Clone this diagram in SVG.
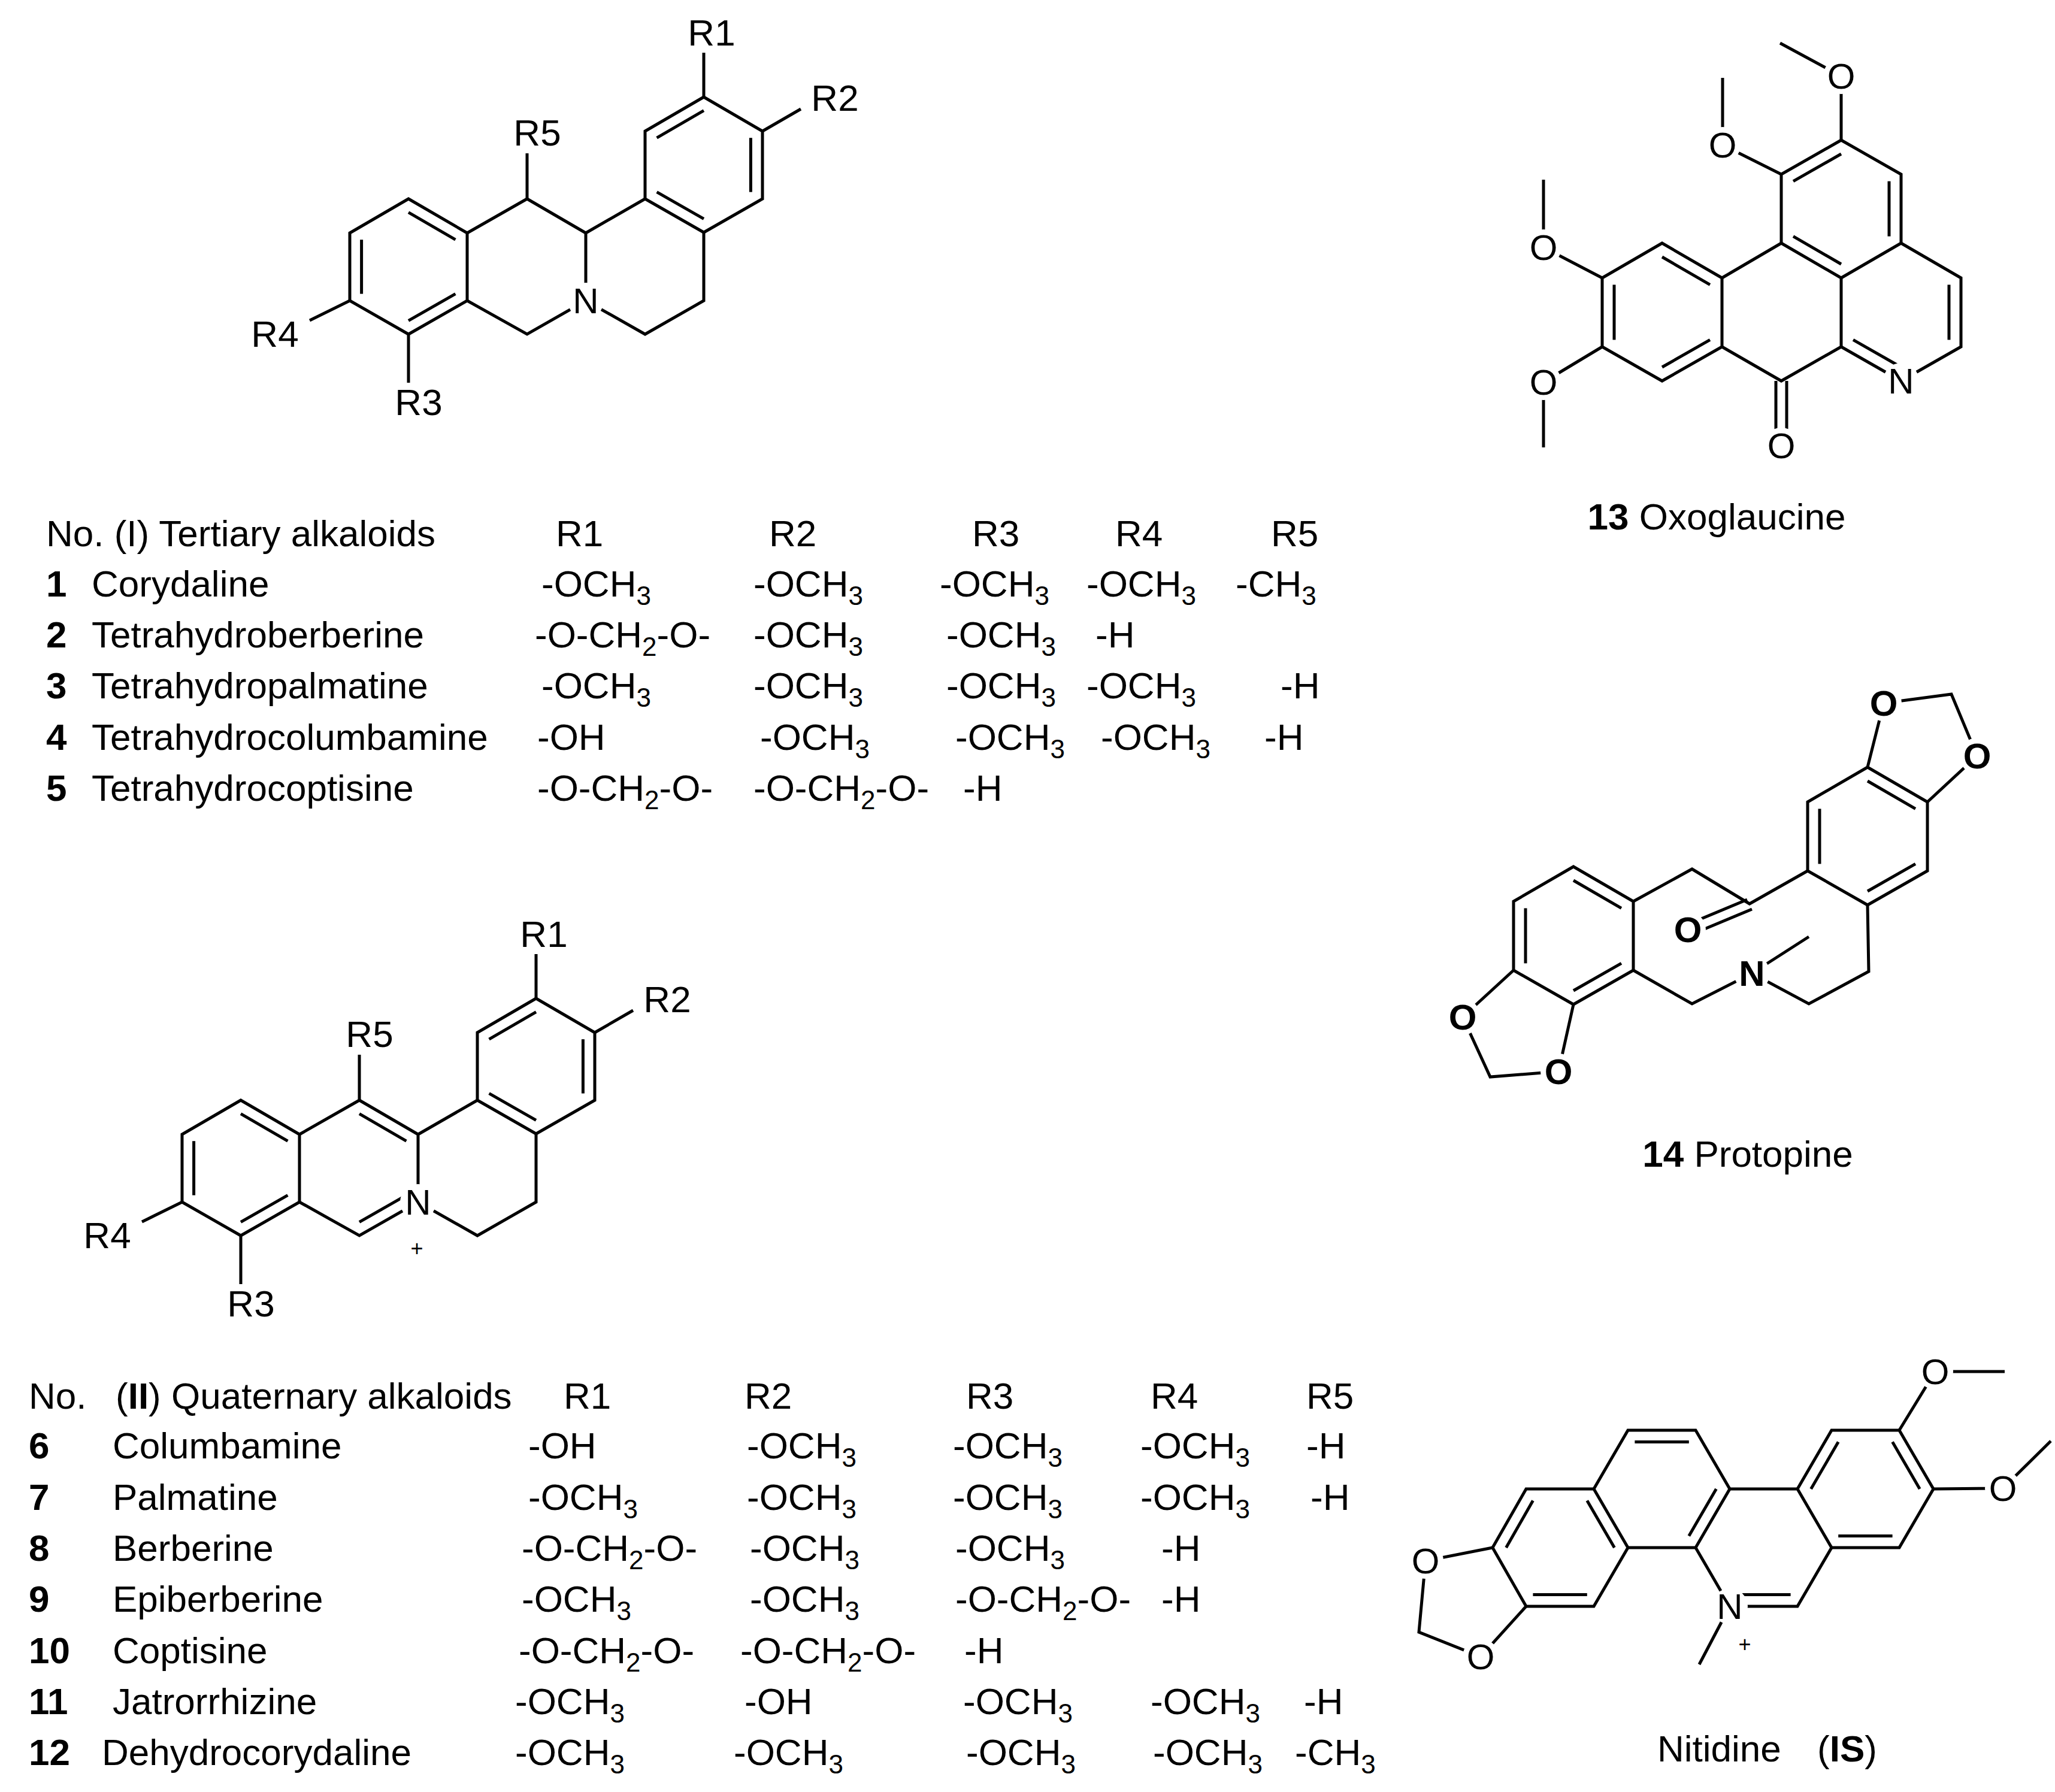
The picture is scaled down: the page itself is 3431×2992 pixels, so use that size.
<svg xmlns="http://www.w3.org/2000/svg" width="3431" height="2992" viewBox="0 0 3431 2992">
<style>
.b line,.b path{stroke:#000;stroke-width:5;fill:none}
.d line{vector-effect:non-scaling-stroke}
text{font-family:"Liberation Sans",Arial,sans-serif;fill:#000}
.t{font-size:62px}
.n{font-weight:bold}
.s{font-size:44px}
.a{font-size:60px;text-anchor:middle}
.ab{font-weight:bold}
.r{font-size:62px;text-anchor:middle}
.bg{fill:#fff}
</style>
<rect width="3431" height="2992" fill="#fff"/>
<defs>
<circle id="bg" class="bg" r="30"/>
<g id="core" class="b">
<path d="M1175,162 L1273,219 L1273,332 L1175,388 L1077,332 L1077,219 Z"/>
<path d="M682,332 L780,389 L780,502 L682,558 L584,502 L584,389 Z"/>
<path d="M780,389 L880,332 L978,389 L1077,332 M978,389 L978,502 L880,558 L780,502 M978,502 L1077,558 L1175,502 L1175,388"/>
<path d="M1175,162 L1175,88 M1273,219 L1337,182 M880,332 L880,256 M584,502 L517,535 M682,558 L682,639"/>
<g class="d" transform="matrix(0.8 0 0 0.8 235 55)"><line x1="1077" y1="219" x2="1175" y2="162"/><line x1="1273" y1="219" x2="1273" y2="332"/><line x1="1077" y1="332" x2="1175" y2="388"/></g>
<g class="d" transform="matrix(0.8 0 0 0.8 136.4 89)"><line x1="682" y1="332" x2="780" y2="389"/><line x1="584" y1="389" x2="584" y2="502"/><line x1="780" y1="502" x2="682" y2="558"/></g>
</g>
<g id="rlab">
<text class="r" x="1188" y="76">R1</text>
<text class="r" x="1394" y="185">R2</text>
<text class="r" x="897" y="243">R5</text>
<text class="r" x="459" y="579">R4</text>
<text class="r" x="699" y="693">R3</text>
<use href="#bg" x="978" y="502"/>
<text class="a" x="978" y="523">N</text>
</g>
</defs>

<g id="structure-I">
<use href="#core"/><use href="#rlab"/>
</g>

<g id="structure-II" transform="translate(-280,1505)">
<use href="#core"/>
<g class="b"><g class="d" transform="matrix(0.8 0 0 0.8 176 89)"><line x1="880" y1="332" x2="978" y2="389"/><line x1="978" y1="502" x2="880" y2="558"/></g></g>
<use href="#rlab"/>
<text x="976" y="592" style="font-size:36px;text-anchor:middle">+</text>
</g>

<g id="table-I">
<text class="t" x="77" y="912">No. (I) Tertiary alkaloids</text>
<text class="t" x="928" y="912">R1</text><text class="t" x="1284" y="912">R2</text><text class="t" x="1623" y="912">R3</text><text class="t" x="1862" y="912">R4</text><text class="t" x="2122" y="912">R5</text>
<text class="t n" x="77" y="996">1</text><text class="t" x="153" y="996">Corydaline</text>
<text class="t" x="904" y="996">-OCH<tspan class="s" dy="14">3</tspan></text><text class="t" x="1258" y="996">-OCH<tspan class="s" dy="14">3</tspan></text><text class="t" x="1569" y="996">-OCH<tspan class="s" dy="14">3</tspan></text><text class="t" x="1814" y="996">-OCH<tspan class="s" dy="14">3</tspan></text><text class="t" x="2063" y="996">-CH<tspan class="s" dy="14">3</tspan></text>
<text class="t n" x="77" y="1081">2</text><text class="t" x="153" y="1081">Tetrahydroberberine</text>
<text class="t" x="893" y="1081">-O-CH<tspan class="s" dy="14">2</tspan><tspan dy="-14">-O-</tspan></text><text class="t" x="1258" y="1081">-OCH<tspan class="s" dy="14">3</tspan></text><text class="t" x="1580" y="1081">-OCH<tspan class="s" dy="14">3</tspan></text><text class="t" x="1829" y="1081">-H</text>
<text class="t n" x="77" y="1166">3</text><text class="t" x="153" y="1166">Tetrahydropalmatine</text>
<text class="t" x="904" y="1166">-OCH<tspan class="s" dy="14">3</tspan></text><text class="t" x="1258" y="1166">-OCH<tspan class="s" dy="14">3</tspan></text><text class="t" x="1580" y="1166">-OCH<tspan class="s" dy="14">3</tspan></text><text class="t" x="1814" y="1166">-OCH<tspan class="s" dy="14">3</tspan></text><text class="t" x="2138" y="1166">-H</text>
<text class="t n" x="77" y="1252">4</text><text class="t" x="153" y="1252">Tetrahydrocolumbamine</text>
<text class="t" x="897" y="1252">-OH</text><text class="t" x="1269" y="1252">-OCH<tspan class="s" dy="14">3</tspan></text><text class="t" x="1595" y="1252">-OCH<tspan class="s" dy="14">3</tspan></text><text class="t" x="1838" y="1252">-OCH<tspan class="s" dy="14">3</tspan></text><text class="t" x="2111" y="1252">-H</text>
<text class="t n" x="77" y="1337">5</text><text class="t" x="153" y="1337">Tetrahydrocoptisine</text>
<text class="t" x="897" y="1337">-O-CH<tspan class="s" dy="14">2</tspan><tspan dy="-14">-O-</tspan></text><text class="t" x="1258" y="1337">-O-CH<tspan class="s" dy="14">2</tspan><tspan dy="-14">-O-</tspan></text><text class="t" x="1608" y="1337">-H</text>
</g>

<g id="table-II">
<text class="t" x="48" y="2352">No.</text><text class="t" x="193" y="2352">(<tspan class="n">II</tspan>) Quaternary alkaloids</text>
<text class="t" x="941" y="2352">R1</text><text class="t" x="1243" y="2352">R2</text><text class="t" x="1613" y="2352">R3</text><text class="t" x="1921" y="2352">R4</text><text class="t" x="2181" y="2352">R5</text>
<text class="t n" x="48" y="2435">6</text><text class="t" x="188" y="2435">Columbamine</text>
<text class="t" x="882" y="2435">-OH</text><text class="t" x="1247" y="2435">-OCH<tspan class="s" dy="14">3</tspan></text><text class="t" x="1591" y="2435">-OCH<tspan class="s" dy="14">3</tspan></text><text class="t" x="1904" y="2435">-OCH<tspan class="s" dy="14">3</tspan></text><text class="t" x="2181" y="2435">-H</text>
<text class="t n" x="48" y="2521">7</text><text class="t" x="188" y="2521">Palmatine</text>
<text class="t" x="882" y="2521">-OCH<tspan class="s" dy="14">3</tspan></text><text class="t" x="1247" y="2521">-OCH<tspan class="s" dy="14">3</tspan></text><text class="t" x="1591" y="2521">-OCH<tspan class="s" dy="14">3</tspan></text><text class="t" x="1904" y="2521">-OCH<tspan class="s" dy="14">3</tspan></text><text class="t" x="2188" y="2521">-H</text>
<text class="t n" x="48" y="2606">8</text><text class="t" x="188" y="2606">Berberine</text>
<text class="t" x="871" y="2606">-O-CH<tspan class="s" dy="14">2</tspan><tspan dy="-14">-O-</tspan></text><text class="t" x="1252" y="2606">-OCH<tspan class="s" dy="14">3</tspan></text><text class="t" x="1595" y="2606">-OCH<tspan class="s" dy="14">3</tspan></text><text class="t" x="1939" y="2606">-H</text>
<text class="t n" x="48" y="2691">9</text><text class="t" x="188" y="2691">Epiberberine</text>
<text class="t" x="871" y="2691">-OCH<tspan class="s" dy="14">3</tspan></text><text class="t" x="1252" y="2691">-OCH<tspan class="s" dy="14">3</tspan></text><text class="t" x="1595" y="2691">-O-CH<tspan class="s" dy="14">2</tspan><tspan dy="-14">-O-</tspan></text><text class="t" x="1939" y="2691">-H</text>
<text class="t n" x="48" y="2777">10</text><text class="t" x="188" y="2777">Coptisine</text>
<text class="t" x="866" y="2777">-O-CH<tspan class="s" dy="14">2</tspan><tspan dy="-14">-O-</tspan></text><text class="t" x="1236" y="2777">-O-CH<tspan class="s" dy="14">2</tspan><tspan dy="-14">-O-</tspan></text><text class="t" x="1610" y="2777">-H</text>
<text class="t n" x="48" y="2862">11</text><text class="t" x="188" y="2862">Jatrorrhizine</text>
<text class="t" x="860" y="2862">-OCH<tspan class="s" dy="14">3</tspan></text><text class="t" x="1243" y="2862">-OH</text><text class="t" x="1608" y="2862">-OCH<tspan class="s" dy="14">3</tspan></text><text class="t" x="1921" y="2862">-OCH<tspan class="s" dy="14">3</tspan></text><text class="t" x="2177" y="2862">-H</text>
<text class="t n" x="48" y="2947">12</text><text class="t" x="170" y="2947">Dehydrocorydaline</text>
<text class="t" x="860" y="2947">-OCH<tspan class="s" dy="14">3</tspan></text><text class="t" x="1225" y="2947">-OCH<tspan class="s" dy="14">3</tspan></text><text class="t" x="1613" y="2947">-OCH<tspan class="s" dy="14">3</tspan></text><text class="t" x="1925" y="2947">-OCH<tspan class="s" dy="14">3</tspan></text><text class="t" x="2162" y="2947">-CH<tspan class="s" dy="14">3</tspan></text>
</g>

<g id="oxoglaucine">
<g class="b">
<path d="M2775,406 L2875,464 L2875,579 L2775,636 L2675,579 L2675,464 Z"/>
<path d="M2875,464 L2974,406 L3074,464 L3074,579 L2974,636 L2875,579"/>
<path d="M2974,406 L2974,291 L3074,234 L3174,291 L3174,406 L3074,464"/>
<path d="M3174,406 L3274,464 L3274,579 L3174,636 L3074,579"/>
<path d="M2965,636 L2965,724 M2983,636 L2983,724"/>
<path d="M2675,464 L2577,413 L2577,300 M2675,579 L2577,638 L2577,747 M2974,291 L2876,242 L2876,130 M3074,234 L3074,127 L2972,72"/>
<g class="d" transform="matrix(0.8 0 0 0.8 555 104.2)"><line x1="2775" y1="406" x2="2875" y2="464"/><line x1="2675" y1="464" x2="2675" y2="579"/><line x1="2775" y1="636" x2="2875" y2="579"/></g>
<g class="d" transform="matrix(0.8 0 0 0.8 614.8 69.8)"><line x1="2974" y1="291" x2="3074" y2="234"/><line x1="3174" y1="291" x2="3174" y2="406"/><line x1="2974" y1="406" x2="3074" y2="464"/></g>
<g class="d" transform="matrix(0.8 0 0 0.8 634.8 104.2)"><line x1="3274" y1="464" x2="3274" y2="579"/><line x1="3074" y1="579" x2="3174" y2="636"/></g>
</g>
<use href="#bg" x="2577" y="413"/><use href="#bg" x="2577" y="638"/><use href="#bg" x="2876" y="242"/><use href="#bg" x="3074" y="127"/><use href="#bg" x="3174" y="636"/><use href="#bg" x="2974" y="744"/>
<text class="a" x="2577" y="434">O</text><text class="a" x="2577" y="659">O</text><text class="a" x="2876" y="263">O</text><text class="a" x="3074" y="148">O</text>
<text class="a" x="3174" y="657">N</text><text class="a" x="2974" y="765">O</text>
<text class="t" x="2866" y="884" text-anchor="middle"><tspan class="n">13</tspan> Oxoglaucine</text>
</g>

<g id="protopine">
<g class="b">
<path d="M2627,1447 L2727,1505 L2727,1620 L2627,1677 L2527,1620 L2527,1505 Z"/>
<path d="M3118,1281 L3218,1339 L3218,1454 L3118,1511 L3018,1454 L3018,1339 Z"/>
<path d="M2727,1505 L2825,1451 L2921,1509 L3018,1454 M2727,1620 L2825,1676 L2925,1625 L3020,1676 L3120,1622 L3118,1511 M2925,1625 L3020,1564"/>
<path d="M2917,1502 L2838,1535 M2925,1518 L2846,1551"/>
<path d="M2527,1620 L2442,1698 L2488,1798 L2602,1789 L2627,1677 M3118,1281 L3145,1174 L3258,1159 L3301,1262 L3218,1339"/>
<g class="d" transform="matrix(0.8 0 0 0.8 525.4 312.4)"><line x1="2627" y1="1447" x2="2727" y2="1505"/><line x1="2527" y1="1505" x2="2527" y2="1620"/><line x1="2727" y1="1620" x2="2627" y2="1677"/></g>
<g class="d" transform="matrix(0.8 0 0 0.8 623.6 279.2)"><line x1="3018" y1="1339" x2="3018" y2="1454"/><line x1="3118" y1="1281" x2="3218" y2="1339"/><line x1="3118" y1="1511" x2="3218" y2="1454"/></g>
</g>
<use href="#bg" x="2818" y="1552"/><use href="#bg" x="2925" y="1625"/><use href="#bg" x="2442" y="1698"/><use href="#bg" x="2602" y="1789"/><use href="#bg" x="3145" y="1174"/><use href="#bg" x="3301" y="1262"/>
<text class="a ab" x="2818" y="1573">O</text><text class="a ab" x="2925" y="1646">N</text>
<text class="a ab" x="2442" y="1719">O</text><text class="a ab" x="2602" y="1810">O</text>
<text class="a ab" x="3145" y="1195">O</text><text class="a ab" x="3301" y="1283">O</text>
<text class="t" x="2918" y="1948" text-anchor="middle"><tspan class="n">14</tspan> Protopine</text>
</g>

<g id="nitidine">
<g class="b">
<path d="M2492,2584 L2548,2486 L2661,2486 L2718,2584 L2661,2682 L2548,2682 Z"/>
<path d="M2661,2486 L2718,2388 L2831,2388 L2888,2486 L2831,2584 L2718,2584"/>
<path d="M2888,2486 L3001,2486 L3058,2584 L3001,2682 L2888,2682 L2831,2584"/>
<path d="M3001,2486 L3058,2388 L3171,2388 L3228,2486 L3171,2584 L3058,2584"/>
<path d="M2492,2584 L2380,2606 L2369,2725 L2472,2766 L2548,2682 M3171,2388 L3231,2290 L3347,2290 M3228,2486 L3344,2485 L3424,2406 M2888,2682 L2837,2779"/>
<g class="d" transform="matrix(0.8 0 0 0.8 521 516.8)"><line x1="2548" y1="2486" x2="2492" y2="2584"/><line x1="2661" y1="2486" x2="2718" y2="2584"/><line x1="2661" y1="2682" x2="2548" y2="2682"/></g>
<g class="d" transform="matrix(0.8 0 0 0.8 555 497.2)"><line x1="2718" y1="2388" x2="2831" y2="2388"/><line x1="2888" y1="2486" x2="2831" y2="2584"/></g>
<g class="d" transform="matrix(0.8 0 0 0.8 588.8 516.8)"><line x1="2888" y1="2682" x2="3001" y2="2682"/></g>
<g class="d" transform="matrix(0.8 0 0 0.8 622.8 497.2)"><line x1="3001" y1="2486" x2="3058" y2="2388"/><line x1="3171" y1="2388" x2="3228" y2="2486"/><line x1="3171" y1="2584" x2="3058" y2="2584"/></g>
</g>
<use href="#bg" x="2380" y="2606"/><use href="#bg" x="2472" y="2766"/><use href="#bg" x="3231" y="2290"/><use href="#bg" x="3344" y="2485"/><use href="#bg" x="2888" y="2682"/>
<text class="a" x="2380" y="2627">O</text><text class="a" x="2472" y="2787">O</text>
<text class="a" x="3231" y="2311">O</text><text class="a" x="3344" y="2506">O</text>
<text class="a" x="2888" y="2703">N</text>
<text x="2913" y="2758" style="font-size:36px;text-anchor:middle">+</text>
<text class="t" x="2767" y="2941">Nitidine</text><text class="t" x="3034" y="2941">(<tspan class="n">IS</tspan>)</text>
</g>
</svg>
